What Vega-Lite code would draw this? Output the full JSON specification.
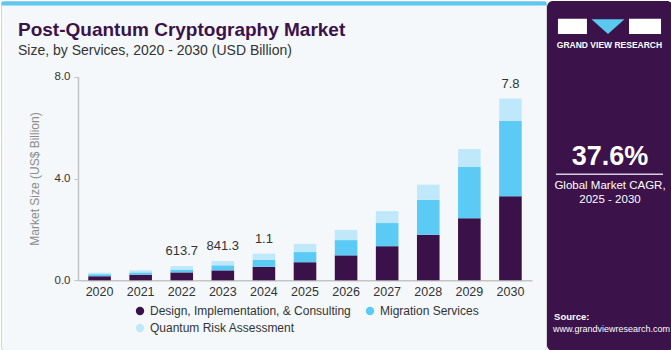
{
  "$schema": "https://vega.github.io/schema/vega-lite/v6.json",
  "background": "#ffffff",
  "padding": 0,
  "autosize": {"type": "pad"},
  "spacing": 0,
  "config": {"font": "Liberation Sans", "view": {"stroke": null}},
  "datasets": {
    "market": [
      {"year": "2020", "service": "Design, Implementation, & Consulting", "value": 0.16},
      {"year": "2020", "service": "Migration Services", "value": 0.08},
      {"year": "2020", "service": "Quantum Risk Assessment", "value": 0.06},
      {"year": "2021", "service": "Design, Implementation, & Consulting", "value": 0.22},
      {"year": "2021", "service": "Migration Services", "value": 0.09},
      {"year": "2021", "service": "Quantum Risk Assessment", "value": 0.08},
      {"year": "2022", "service": "Design, Implementation, & Consulting", "value": 0.31},
      {"year": "2022", "service": "Migration Services", "value": 0.11},
      {"year": "2022", "service": "Quantum Risk Assessment", "value": 0.14},
      {"year": "2023", "service": "Design, Implementation, & Consulting", "value": 0.39},
      {"year": "2023", "service": "Migration Services", "value": 0.20},
      {"year": "2023", "service": "Quantum Risk Assessment", "value": 0.17},
      {"year": "2024", "service": "Design, Implementation, & Consulting", "value": 0.53},
      {"year": "2024", "service": "Migration Services", "value": 0.28},
      {"year": "2024", "service": "Quantum Risk Assessment", "value": 0.24},
      {"year": "2025", "service": "Design, Implementation, & Consulting", "value": 0.71},
      {"year": "2025", "service": "Migration Services", "value": 0.40},
      {"year": "2025", "service": "Quantum Risk Assessment", "value": 0.32},
      {"year": "2026", "service": "Design, Implementation, & Consulting", "value": 0.98},
      {"year": "2026", "service": "Migration Services", "value": 0.60},
      {"year": "2026", "service": "Quantum Risk Assessment", "value": 0.40},
      {"year": "2027", "service": "Design, Implementation, & Consulting", "value": 1.34},
      {"year": "2027", "service": "Migration Services", "value": 0.91},
      {"year": "2027", "service": "Quantum Risk Assessment", "value": 0.47},
      {"year": "2028", "service": "Design, Implementation, & Consulting", "value": 1.79},
      {"year": "2028", "service": "Migration Services", "value": 1.37},
      {"year": "2028", "service": "Quantum Risk Assessment", "value": 0.60},
      {"year": "2029", "service": "Design, Implementation, & Consulting", "value": 2.44},
      {"year": "2029", "service": "Migration Services", "value": 2.01},
      {"year": "2029", "service": "Quantum Risk Assessment", "value": 0.71},
      {"year": "2030", "service": "Design, Implementation, & Consulting", "value": 3.30},
      {"year": "2030", "service": "Migration Services", "value": 2.97},
      {"year": "2030", "service": "Quantum Risk Assessment", "value": 0.87}
    ],
    "labels": [
      {"year": "2022", "label": "613.7"},
      {"year": "2023", "label": "841.3"},
      {"year": "2024", "label": "1.1"},
      {"year": "2030", "label": "7.8"}
    ]
  },
  "hconcat": [
    {
      "width": 545,
      "height": 350,
      "view": {"fill": "#f4f8fb", "stroke": "#d3d6d9", "strokeWidth": 1, "cornerRadius": 4},
      "title": {
        "text": "Post-Quantum Cryptography Market",
        "subtitle": "Size, by Services, 2020 - 2030 (USD Billion)",
        "anchor": "start",
        "frame": "bounds",
        "dx": 17,
        "offset": -56.5,
        "font": "Liberation Sans",
        "fontSize": 19,
        "fontWeight": "bold",
        "color": "#3b1249",
        "subtitleFont": "Liberation Sans",
        "subtitleFontSize": 14,
        "subtitleColor": "#333333",
        "subtitlePadding": 4
      },
      "layer": [
        {
          "layer": [
            {
              "data": {"name": "market"},
              "mark": {"type": "bar"},
              "encoding": {
                "x": {
                  "field": "year", "type": "ordinal",
                  "scale": {"range": [77, 531], "paddingInner": 0.45, "paddingOuter": 0.25},
                  "axis": {"orient": "bottom", "offset": -70.7, "title": null, "labelAngle": 0, "labelFontSize": 12.5, "labelColor": "#333333", "labelPadding": 5, "ticks": false, "domainColor": "#c4c4c4", "domainWidth": 1.5}
                },
                "y": {
                  "field": "value", "type": "quantitative", "stack": "zero",
                  "title": "Market Size (US$ Billion)",
                  "scale": {"domain": [0, 8], "range": [279.3, 75.7], "nice": false, "zero": true},
                  "axis": {"values": [0, 4, 8], "format": ".1f", "offset": -77, "grid": false, "labelFontSize": 11.5, "labelColor": "#333333", "labelPadding": 4, "tickSize": 4, "tickColor": "#c4c4c4", "domainColor": "#c4c4c4", "domainWidth": 1.5, "titleColor": "#8c8c8c", "titleFontSize": 12, "titleFontWeight": "normal", "titlePadding": 13}
                },
                "color": {
                  "field": "service", "type": "nominal",
                  "scale": {"domain": ["Design, Implementation, & Consulting", "Migration Services", "Quantum Risk Assessment"], "range": ["#3a1249", "#5bcbf5", "#bfe9fa"]},
                  "legend": {"orient": "none", "legendX": 133, "legendY": 304, "direction": "horizontal", "columns": 2, "title": null, "symbolType": "circle", "symbolSize": 70, "symbolStrokeWidth": 0, "labelFontSize": 12, "labelLimit": 400, "labelColor": "#333333", "columnPadding": 13, "rowPadding": 5, "padding": 0}
                },
                "order": {"field": "service", "sort": "ascending"}
              }
            },
            {
              "data": {"name": "market"},
              "transform": [
                {"aggregate": [{"op": "sum", "field": "value", "as": "total"}], "groupby": ["year"]},
                {"lookup": "year", "from": {"data": {"name": "labels"}, "key": "year", "fields": ["label"]}},
                {"filter": "datum.label != null"}
              ],
              "mark": {"type": "text", "dy": -15, "fontSize": 13, "color": "#333333"},
              "encoding": {
                "x": {"field": "year", "type": "ordinal"},
                "y": {"field": "total", "type": "quantitative", "title": "Market Size (US$ Billion)"},
                "text": {"field": "label"}
              }
            }
          ]
        },
        {
          "data": {"name": "market"},
          "mark": {"type": "point", "opacity": 0},
          "encoding": {
            "x": {"field": "year", "type": "ordinal", "axis": {"orient": "top", "offset": -2, "labels": false, "ticks": false, "title": null, "domainColor": "#5bc8f0", "domainWidth": 4}}
          }
        }
      ],
      "resolve": {"scale": {"x": "independent"}, "axis": {"x": "independent"}}
    },
    {
      "width": 126,
      "height": 350,
      "view": {"fill": "#3b1249", "stroke": null, "cornerRadius": 6},
      "data": {"values": [{}]},
      "layer": [
        {
          "mark": {"type": "rect", "color": "#ffffff"},
          "encoding": {
            "x": {"datum": 0.087, "type": "quantitative", "scale": {"domain": [0, 1]}, "axis": null},
            "x2": {"datum": 0.317},
            "y": {"datum": 0.051, "type": "quantitative", "scale": {"domain": [0, 1], "reverse": true}, "axis": null},
            "y2": {"datum": 0.094}
          }
        },
        {
          "mark": {"type": "rect", "color": "#ffffff"},
          "encoding": {
            "x": {"datum": 0.651, "type": "quantitative"},
            "x2": {"datum": 0.905},
            "y": {"datum": 0.051, "type": "quantitative"},
            "y2": {"datum": 0.094}
          }
        },
        {
          "mark": {"type": "point", "shape": "M-1,-0.45L1,-0.45L0,0.45Z", "filled": true, "color": "#5bc8f0", "opacity": 1, "size": 1089},
          "encoding": {
            "x": {"datum": 0.484, "type": "quantitative"},
            "y": {"datum": 0.073, "type": "quantitative"}
          }
        },
        {
          "mark": {"type": "text", "text": "GRAND VIEW RESEARCH", "color": "#ffffff", "fontSize": 8.5, "fontWeight": "bold", "align": "center", "baseline": "middle"},
          "encoding": {
            "x": {"datum": 0.496, "type": "quantitative"},
            "y": {"datum": 0.126, "type": "quantitative"}
          }
        },
        {
          "mark": {"type": "text", "text": "37.6%", "color": "#ffffff", "fontSize": 27, "fontWeight": "bold", "align": "center", "baseline": "middle"},
          "encoding": {
            "x": {"datum": 0.5, "type": "quantitative"},
            "y": {"datum": 0.446, "type": "quantitative"}
          }
        },
        {
          "mark": {"type": "rule", "color": "#d8cfe0", "strokeWidth": 1.5},
          "encoding": {
            "x": {"datum": 0.071, "type": "quantitative"},
            "x2": {"datum": 0.921},
            "y": {"datum": 0.495, "type": "quantitative"}
          }
        },
        {
          "mark": {"type": "text", "text": "Global Market CAGR,", "color": "#ffffff", "fontSize": 11.5, "align": "center", "baseline": "middle"},
          "encoding": {
            "x": {"datum": 0.5, "type": "quantitative"},
            "y": {"datum": 0.529, "type": "quantitative"}
          }
        },
        {
          "mark": {"type": "text", "text": "2025 - 2030", "color": "#ffffff", "fontSize": 11.5, "align": "center", "baseline": "middle"},
          "encoding": {
            "x": {"datum": 0.5, "type": "quantitative"},
            "y": {"datum": 0.569, "type": "quantitative"}
          }
        },
        {
          "mark": {"type": "text", "text": "Source:", "color": "#ffffff", "fontSize": 9.5, "fontWeight": "bold", "align": "left", "baseline": "middle"},
          "encoding": {
            "x": {"datum": 0.056, "type": "quantitative"},
            "y": {"datum": 0.902, "type": "quantitative"}
          }
        },
        {
          "mark": {"type": "text", "text": "www.grandviewresearch.com", "color": "#ffffff", "fontSize": 9, "align": "left", "baseline": "middle"},
          "encoding": {
            "x": {"datum": 0.048, "type": "quantitative"},
            "y": {"datum": 0.937, "type": "quantitative"}
          }
        }
      ]
    }
  ],
  "resolve": {"scale": {"x": "independent", "y": "independent", "color": "independent"}, "legend": {"color": "independent"}}
}
